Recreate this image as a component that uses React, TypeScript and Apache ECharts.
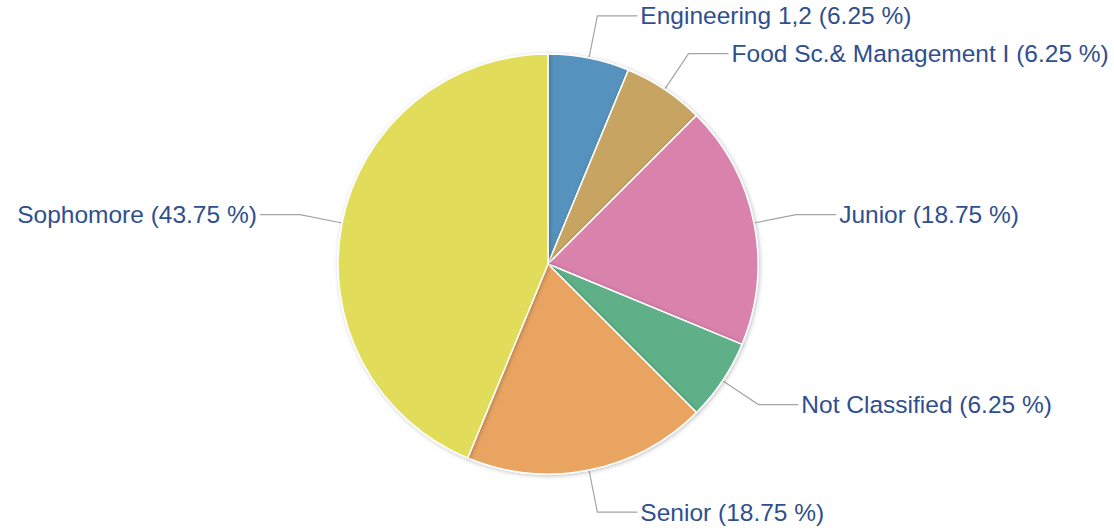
import React, { useEffect, useRef } from "react";
import * as echarts from "echarts";

const categories = [
  "Engineering 1,2",
  "Food Sc.& Management I",
  "Junior",
  "Not Classified",
  "Senior",
  "Sophomore",
];
const counts = [1, 1, 3, 1, 3, 7];
const colors = ["#5592be", "#c8a463", "#d882ac", "#5eb088", "#e9a462", "#e1dd5a"];

export default function App() {
  const ref = useRef<HTMLDivElement>(null);
  useEffect(() => {
    document.body.style.margin = "0";
    const chart = echarts.init(ref.current!, null, { renderer: "svg" });
    chart.setOption({
      animation: false,
      backgroundColor: "#ffffff",
      series: [
        {
          type: "pie",
          center: [548, 264],
          radius: 210,
          startAngle: 90,
          clockwise: true,
          avoidLabelOverlap: false,
          data: categories.map((c, i) => ({
            name: c,
            value: counts[i],
            itemStyle: { color: colors[i] },
          })),
          itemStyle: {
            borderColor: "#ffffff",
            borderWidth: 1.5,
            shadowBlur: 4,
            shadowColor: "rgba(0,0,0,0.25)",
            shadowOffsetX: 1,
            shadowOffsetY: 1,
          },
          label: {
            show: true,
            formatter: "{b} ({d} %)",
            color: "#2f4f8f",
            fontFamily: "Liberation Sans, Arial, sans-serif",
            fontSize: 24.5,
            distanceToLabelLine: 3,
          },
          labelLine: {
            show: true,
            length: 43,
            length2: 40,
            smooth: false,
            lineStyle: { color: "#a5a5a5", width: 1.2 },
          },
          emphasis: { disabled: true },
        },
      ],
    });
    return () => chart.dispose();
  }, []);
  return <div ref={ref} style={{ width: 1114, height: 529 }} />;
}
